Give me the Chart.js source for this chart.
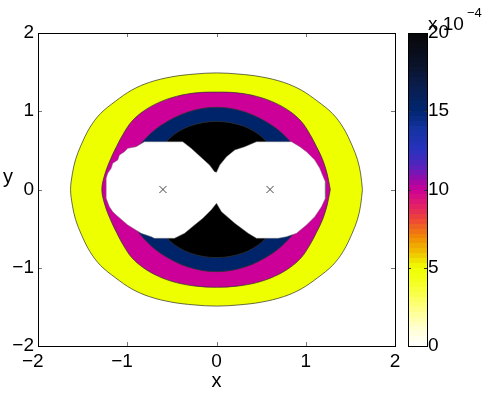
<!DOCTYPE html>
<html>
<head>
<meta charset="utf-8">
<script src="https://cdn.jsdelivr.net/npm/chart.js@4.4.1/dist/chart.umd.min.js"></script>
<style>
  html, body { margin: 0; padding: 0; background: #fff; }
  #wrap { position: relative; width: 488px; height: 395px; font-family: "Liberation Sans", Arial, sans-serif; }
  #main { position: absolute; left: 0; top: 0; }
  #cbar { position: absolute; left: 395px; top: 0; }
  .lbl { position: absolute; color: #000; white-space: nowrap; line-height: 1; }
</style>
</head>
<body>
<div id="wrap">
  <canvas id="main" width="488" height="395"></canvas>
  <canvas id="cbar" width="93" height="395"></canvas>
  <span class="lbl" style="left:3px; top:166px; font-size:20px;">y</span>
  <span class="lbl" style="left:428px; top:14px; font-size:19px;">x 10</span>
  <span class="lbl" style="left:467px; top:6px; font-size:13px;">−4</span>
</div>
<script>
// axes
const xTicks = [-2, -1, 0, 1, 2];
const xTickLabels = ['−2', '−1', '0', '1', '2'];
const yTicks = [-2, -1, 0, 1, 2];
const yTickLabels = ['−2', '−1', '0', '1', '2'];

// colorbar (values x 10^-4)
const cbTicks = [0, 5, 10, 15, 20];
const cbTickLabels = ['0', '5', '10', '15', '20'];

// filled contour levels and their boundaries [x, y]
const levels = [5, 10, 15, 20];

const level5 = [
  [1.635, 0], [1.615, -0.2], [1.58, -0.38], [1.52, -0.56], [1.42, -0.79], [1.3, -0.97], [1.13, -1.13], [0.95, -1.27],
  [0.75, -1.37], [0.5, -1.44], [0.25, -1.475], [0, -1.49],
  [-0.25, -1.475], [-0.5, -1.44], [-0.75, -1.37], [-0.95, -1.27], [-1.13, -1.13], [-1.3, -0.97], [-1.42, -0.79],
  [-1.52, -0.56], [-1.58, -0.38], [-1.615, -0.2], [-1.635, 0],
  [-1.615, 0.2], [-1.58, 0.38], [-1.52, 0.56], [-1.42, 0.79], [-1.3, 0.97], [-1.13, 1.13], [-0.95, 1.27],
  [-0.75, 1.37], [-0.5, 1.44], [-0.25, 1.475], [0, 1.49],
  [0.25, 1.475], [0.5, 1.44], [0.75, 1.37], [0.95, 1.27], [1.13, 1.13], [1.3, 0.97], [1.42, 0.79],
  [1.52, 0.56], [1.58, 0.38], [1.615, 0.2], [1.635, 0]
];

const level10 = [
  [1.275, 0], [1.24, -0.2], [1.19, -0.38], [1.12, -0.55], [1.04, -0.72], [0.95, -0.87], [0.82, -1.0], [0.65, -1.11],
  [0.45, -1.19], [0.23, -1.235], [0, -1.25],
  [-0.23, -1.235], [-0.45, -1.19], [-0.65, -1.11], [-0.82, -1.0], [-0.95, -0.87], [-1.04, -0.72], [-1.12, -0.55],
  [-1.19, -0.38], [-1.25, -0.2], [-1.285, 0],
  [-1.25, 0.2], [-1.19, 0.38], [-1.12, 0.55], [-1.04, 0.72], [-0.95, 0.87], [-0.82, 1.0], [-0.65, 1.11],
  [-0.45, 1.19], [-0.23, 1.235], [0, 1.245],
  [0.23, 1.235], [0.45, 1.19], [0.65, 1.11], [0.82, 1.0], [0.95, 0.87], [1.04, 0.72], [1.12, 0.55],
  [1.19, 0.38], [1.24, 0.2], [1.275, 0]
];

const level15 = [
  [1.0, 0], [0.98, -0.25], [0.92, -0.45], [0.82, -0.62], [0.62, -0.82], [0.32, -0.99], [0, -1.05],
  [-0.32, -0.99], [-0.62, -0.82], [-0.82, -0.62], [-0.92, -0.45], [-0.98, -0.25], [-1.0, 0],
  [-0.98, 0.25], [-0.92, 0.45], [-0.82, 0.62], [-0.62, 0.82], [-0.32, 0.99], [0, 1.05],
  [0.32, 0.99], [0.62, 0.82], [0.82, 0.62], [0.92, 0.45], [0.98, 0.25], [1.0, 0]
];

const level20 = [
  [0.68, 0], [0.66, -0.3], [0.61, -0.5], [0.52, -0.66], [0.3, -0.81], [0, -0.87],
  [-0.3, -0.81], [-0.52, -0.66], [-0.61, -0.5], [-0.66, -0.3], [-0.68, 0],
  [-0.66, 0.3], [-0.61, 0.5], [-0.52, 0.66], [-0.3, 0.81], [0, 0.87],
  [0.3, 0.81], [0.52, 0.66], [0.61, 0.5], [0.66, 0.3], [0.68, 0]
];

// region above the top level (left blank)
const aboveTop = [
  [0, 0.22], [0.037, 0.313], [0.112, 0.419], [0.205, 0.505], [0.317, 0.547], [0.448, 0.611],
  [0.84, 0.611], [0.933, 0.547], [1.008, 0.483], [1.101, 0.377], [1.157, 0.27], [1.195, 0.164],
  [1.22, 0.1], [1.22, -0.113], [1.176, -0.22], [1.101, -0.348], [1.008, -0.454], [0.896, -0.56],
  [0.784, -0.603], [0.691, -0.624], [0.448, -0.624], [0.355, -0.56], [0.205, -0.432], [0.056, -0.284],
  [0, -0.176],
  [-0.06, -0.262], [-0.153, -0.368], [-0.246, -0.454], [-0.358, -0.56], [-0.471, -0.624],
  [-0.695, -0.624], [-0.731, -0.603], [-0.844, -0.56], [-0.994, -0.454], [-1.124, -0.326],
  [-1.162, -0.284], [-1.2, -0.22], [-1.236, -0.113], [-1.236, 0.143], [-1.218, 0.207], [-1.18, 0.27],
  [-1.162, 0.335], [-1.106, 0.377], [-1.087, 0.441], [-1.031, 0.483], [-0.994, 0.526], [-0.9, 0.547],
  [-0.807, 0.611], [-0.378, 0.611], [-0.284, 0.527], [-0.078, 0.313], [-0.022, 0.227], [0, 0.22]
];

// source positions
const sourcesX = [-0.6, 0.6];
const sourcesY = [0, 0];

// colormap key stops: value, rgb
const cmapStops = [
  [0, [255, 255, 255]], [1, [255, 255, 215]], [2, [255, 255, 160]], [3, [252, 255, 95]], [4, [245, 255, 35]],
  [5, [238, 255, 0]], [5.5, [240, 225, 0]], [6, [240, 190, 0]], [7, [240, 135, 5]], [8, [238, 75, 50]],
  [9, [225, 30, 105]], [10, [204, 0, 153]], [10.7, [150, 10, 170]], [11.5, [85, 35, 190]], [12.5, [40, 50, 190]],
  [13.9, [20, 50, 160]], [15, [0, 38, 112]], [16.5, [10, 30, 80]], [18, [10, 18, 40]], [20, [8, 8, 8]]
];

function cmap(v) {
  for (let i = 1; i < cmapStops.length; i++) {
    const [v1, c1] = cmapStops[i];
    const [v0, c0] = cmapStops[i - 1];
    if (v <= v1) {
      const t = (v - v0) / (v1 - v0);
      const c = c0.map((a, k) => Math.round(a + (c1[k] - a) * t));
      return 'rgb(' + c.join(',') + ')';
    }
  }
  return 'rgb(8,8,8)';
}

function cmapGradient(chart) {
  const a = chart.chartArea;
  if (!a) return null;
  const g = chart.ctx.createLinearGradient(0, a.bottom, 0, a.top);
  const n = 64;
  const lo = cbTicks[0], hi = cbTicks[cbTicks.length - 1];
  for (let i = 0; i < n; i++) {
    const col = cmap(lo + (i + 0.5) * (hi - lo) / n);
    g.addColorStop(i / n, col);
    g.addColorStop((i + 1) / n, col);
  }
  return g;
}

const toPts = arr => arr.map(p => ({ x: p[0], y: p[1] }));
const font = { family: '"Liberation Sans", Arial, sans-serif', size: 19 };
const padMinus = s => s.startsWith('−') ? s + '\u00a0\u00a0' : s;

// box round the axes with small inward ticks
const framePlugin = {
  id: 'frame',
  afterDraw(chart, args, opts) {
    const { ctx, chartArea: a, scales } = chart;
    const L = opts.tickLength;
    ctx.save();
    ctx.lineWidth = 1;
    ctx.strokeStyle = opts.tickColor;
    ctx.beginPath();
    (opts.xTicks || []).forEach(v => {
      const px = Math.round(scales.x.getPixelForValue(v)) + 0.5;
      ctx.moveTo(px, a.bottom); ctx.lineTo(px, a.bottom - L);
      ctx.moveTo(px, a.top); ctx.lineTo(px, a.top + L);
    });
    (opts.yTicks || []).forEach(v => {
      const py = Math.round(scales.y.getPixelForValue(v)) + 0.5;
      ctx.moveTo(a.left, py); ctx.lineTo(a.left + L, py);
      ctx.moveTo(a.right, py); ctx.lineTo(a.right - L, py);
    });
    ctx.stroke();
    ctx.strokeStyle = opts.color;
    ctx.strokeRect(Math.round(a.left) + 0.5, Math.round(a.top) + 0.5, Math.round(a.width), Math.round(a.height));
    ctx.restore();
  }
};

const fillColors = ['#eeff00', '#cc0099', '#00246a', '#000000'];
const contours = [level5, level10, level15, level20];

const datasets = contours.map((c, i) => ({
  label: 'level ' + levels[i],
  data: toPts(c),
  showLine: true,
  fill: 'shape',
  backgroundColor: fillColors[i],
  borderColor: 'rgba(50,50,50,0.9)',
  borderWidth: 0.8,
  pointRadius: 0,
  tension: 0.35,
  order: 10 - i
}));

datasets.push({
  label: 'above',
  data: toPts(aboveTop),
  showLine: true,
  fill: 'shape',
  backgroundColor: '#ffffff',
  borderColor: 'rgba(110,110,110,0.8)',
  borderWidth: 0.6,
  pointRadius: 0,
  tension: 0,
  order: 2
});

datasets.push({
  label: 'sources',
  data: sourcesX.map((x, i) => ({ x: x, y: sourcesY[i] })),
  showLine: false,
  pointStyle: 'crossRot',
  pointRadius: 5,
  borderColor: '#444',
  borderWidth: 1,
  order: 0
});

new Chart(document.getElementById('main'), {
  type: 'scatter',
  data: { datasets: datasets },
  options: {
    responsive: false,
    animation: false,
    events: [],
    layout: { padding: { left: 0, top: 33, right: 93, bottom: 0 } },
    plugins: {
      legend: { display: false },
      tooltip: { enabled: false },
      frame: { xTicks: xTicks, yTicks: yTicks, tickLength: 4, tickColor: '#777', color: '#000' }
    },
    scales: {
      x: {
        type: 'linear', min: -2, max: 2,
        grid: { display: false, drawTicks: false },
        border: { display: false },
        afterBuildTicks: s => { s.ticks = xTicks.map(v => ({ value: v })); },
        afterFit: s => { s.height = 49; },
        ticks: {
          callback: v => padMinus(xTickLabels[xTicks.indexOf(v)]),
          font: font, color: '#000', padding: 4, maxRotation: 0, autoSkip: false
        },
        title: { display: true, text: 'x', font: { family: font.family, size: 20 }, color: '#000', padding: { top: 0, bottom: 2 } }
      },
      y: {
        type: 'linear', min: -2, max: 2,
        grid: { display: false, drawTicks: false },
        border: { display: false },
        afterBuildTicks: s => { s.ticks = yTicks.map(v => ({ value: v })); },
        afterFit: s => { s.width = 38; },
        ticks: {
          callback: v => yTickLabels[yTicks.indexOf(v)],
          font: font, color: '#000', padding: 4, autoSkip: false
        }
      }
    }
  },
  plugins: [framePlugin]
});

new Chart(document.getElementById('cbar'), {
  type: 'bar',
  data: {
    labels: ['c'],
    datasets: [{
      data: [[cbTicks[0], cbTicks[cbTicks.length - 1]]],
      backgroundColor: c => cmapGradient(c.chart),
      borderWidth: 0,
      barPercentage: 1,
      categoryPercentage: 1
    }]
  },
  options: {
    responsive: false,
    animation: false,
    events: [],
    layout: { padding: { left: 13, top: 33, right: 0, bottom: 49 } },
    plugins: {
      legend: { display: false },
      tooltip: { enabled: false },
      frame: { yTicks: cbTicks, tickLength: 3, tickColor: '#333', color: '#000' }
    },
    scales: {
      x: { display: false },
      y: {
        position: 'right', min: 0, max: 20,
        grid: { display: false, drawTicks: false },
        border: { display: false },
        afterBuildTicks: s => { s.ticks = cbTicks.map(v => ({ value: v })); },
        afterFit: s => { s.width = 61; },
        ticks: {
          callback: v => cbTickLabels[cbTicks.indexOf(v)],
          font: font, color: '#000', padding: 1, autoSkip: false
        }
      }
    }
  },
  plugins: [framePlugin]
});
</script>
</body>
</html>
